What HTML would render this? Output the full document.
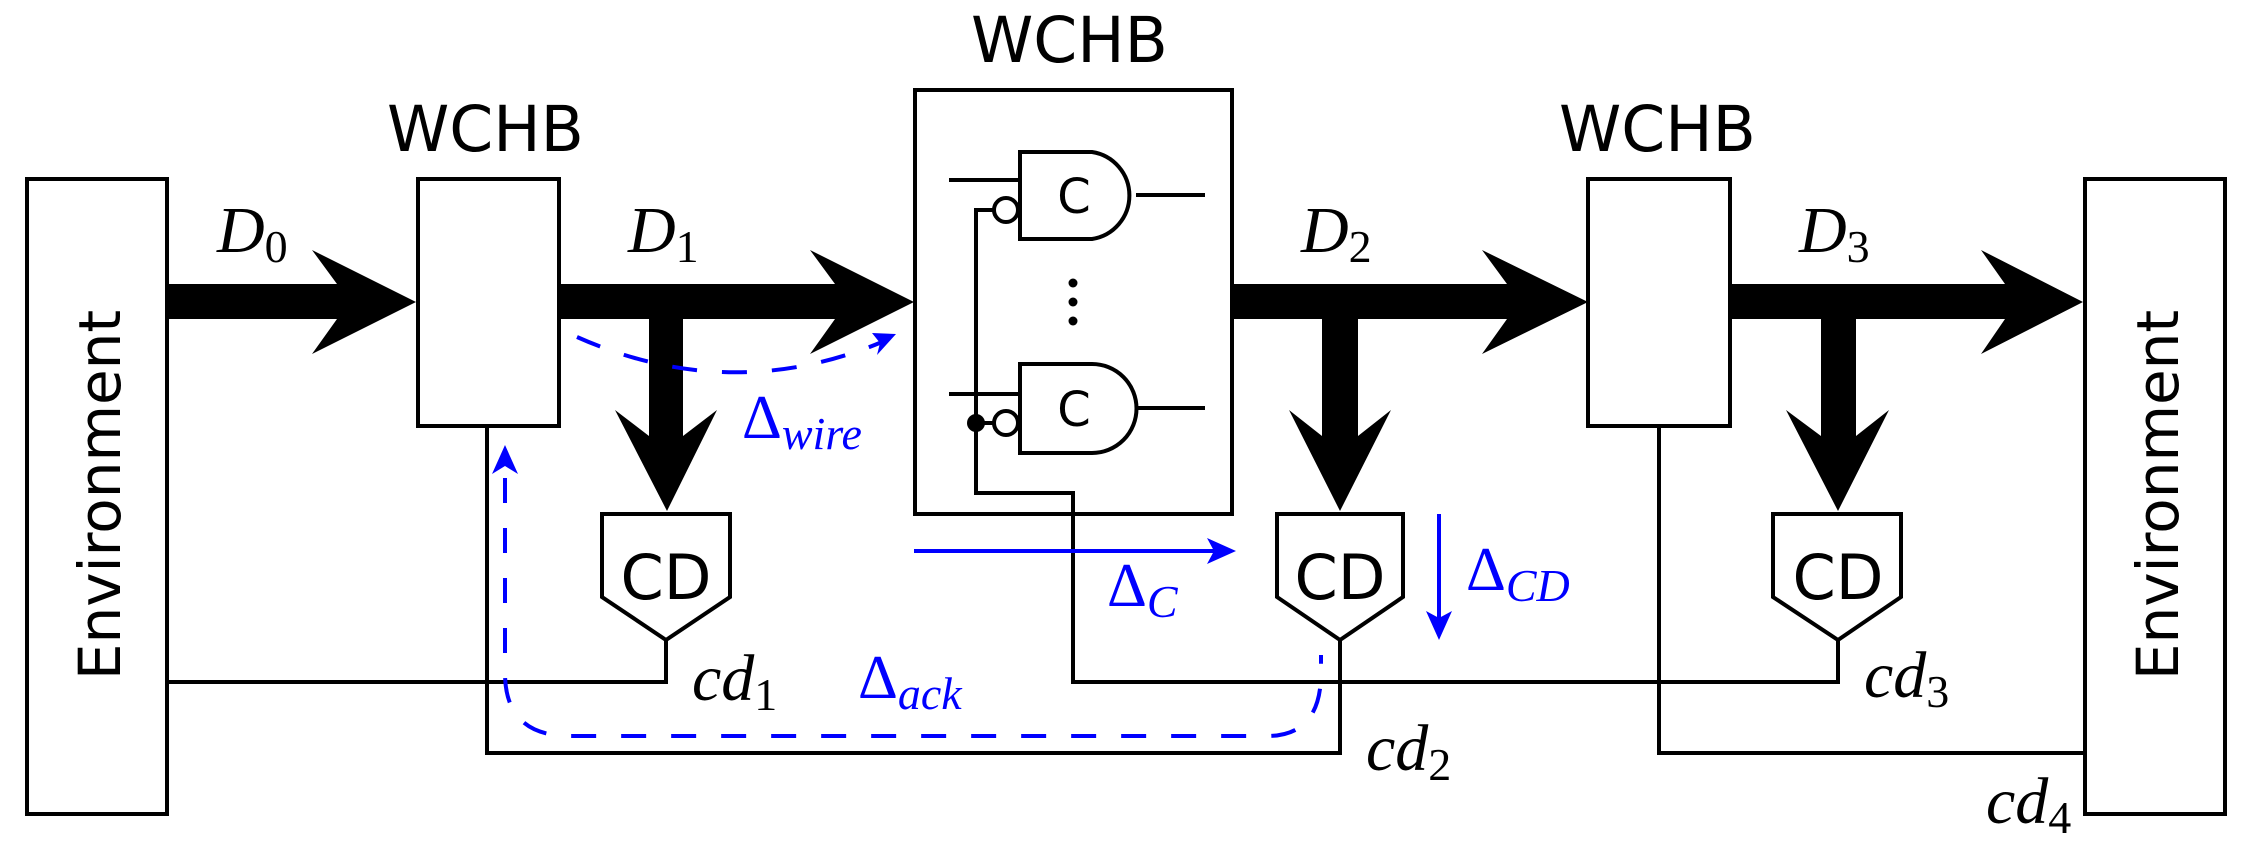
<!DOCTYPE html>
<html><head><meta charset="utf-8"><style>
html,body{margin:0;padding:0;background:#fff;}
svg{display:block;}
.s{font-family:"DejaVu Sans","Liberation Sans",sans-serif;}
.m{font-family:"Liberation Serif",serif;font-style:italic;}
.u{font-family:"Liberation Serif",serif;font-style:normal;}
</style></head><body>
<svg width="2247" height="848" viewBox="0 0 2247 848" xmlns="http://www.w3.org/2000/svg">
<defs>
<marker id="ab" markerWidth="10" markerHeight="10" refX="8" refY="5" orient="auto" markerUnits="userSpaceOnUse" viewBox="0 0 10 10">
</marker>
</defs>
<g fill="none" stroke="#000" stroke-width="4">
<rect x="27" y="179" width="140" height="635"/>
<rect x="2085" y="179" width="140" height="635"/>
<rect x="418" y="179" width="141" height="247"/>
<rect x="1588" y="179" width="142" height="247"/>
<rect x="915" y="90" width="317" height="424"/>
<!-- gates -->
<path d="M1020,152 H1092 A44,44 0 0 1 1092,239 H1020 Z"/>
<path d="M1020,364 H1092 A44,44 0 0 1 1092,453 H1020 Z"/>
<path d="M1136,195 H1205 M1136,408 H1205"/>
<path d="M949,180 H1020 M949,394 H1020"/>
<circle cx="1006" cy="210" r="12"/>
<circle cx="1006" cy="423" r="12"/>
<path d="M994,210 H976 V493 H1073 V682 H1838 V640"/>
<path d="M994,423 H976"/>
<!-- CD boxes -->
<path d="M602,514 H730 V597 L666,640 L602,597 Z"/>
<path d="M1277,514 H1403 V597 L1340,640 L1277,597 Z"/>
<path d="M1773,514 H1901 V597 L1838,640 L1773,597 Z"/>
<path d="M666,640 V682 H167"/>
<path d="M1340,640 V753 H487 V426"/>
<path d="M1659,426 V753 H2085"/>
</g>
<circle cx="976" cy="423" r="9" fill="#000"/>
<circle cx="1073" cy="283" r="4.5" fill="#000"/>
<circle cx="1073" cy="302" r="4.5" fill="#000"/>
<circle cx="1073" cy="321" r="4.5" fill="#000"/>
<!-- thick arrows -->
<g fill="#000">
<polygon points="167,284 337,284 312,250 416,302 312,354 337,319 167,319"/>
<polygon points="559,284 835,284 810,250 914,302 810,354 835,319 559,319"/>
<polygon points="1232,284 1507,284 1482,250 1588,302 1482,354 1507,319 1232,319"/>
<polygon points="1730,284 2005,284 1981,250 2083,302 1981,354 2005,319 1730,319"/>
<polygon points="649,318 683,318 683,436 717,410 667,511 615,410 649,436"/>
<polygon points="1322,318 1358,318 1358,436 1391,410 1340,511 1289,410 1322,436"/>
<polygon points="1821,318 1856,318 1856,436 1889,410 1838,511 1786,410 1821,436"/>
</g>
<!-- blue -->
<g fill="none" stroke="#0000ff" stroke-width="4">
<path d="M577,337 Q730,405 882,342" stroke-dasharray="25,25"/>
<path d="M505,478 V673 Q505,736 570,736 H1267 Q1321,736 1321,673 V655" stroke-dasharray="25,25"/>
<path d="M914,551 H1228"/>
<path d="M1439,514 V632"/>
</g>
<g fill="#0000ff">
<polygon points="896,334 872,333 880,343 877,355"/>
<polygon points="505,445 518,474 505,466 492,474"/>
<polygon points="1236,551 1207,538 1214,551 1207,564"/>
<polygon points="1439,640 1426,611 1439,618 1452,611"/>
</g>
<!-- text -->
<g class="s" fill="#000">
<text x="971" y="62" font-size="63">WCHB</text>
<text x="387" y="151" font-size="63">WCHB</text>
<text x="1559" y="151" font-size="63">WCHB</text>
<text x="1074" y="213" font-size="48" text-anchor="middle">C</text>
<text x="1074" y="426" font-size="48" text-anchor="middle">C</text>
<text x="666" y="599" font-size="62" text-anchor="middle">CD</text>
<text x="1340" y="599" font-size="62" text-anchor="middle">CD</text>
<text x="1838" y="599" font-size="62" text-anchor="middle">CD</text>
<text transform="translate(120,495) rotate(-90)" font-size="58" text-anchor="middle">Environment</text>
<text transform="translate(2178,495) rotate(-90)" font-size="58" text-anchor="middle">Environment</text>
</g>
<g fill="#000" font-size="66">
<text x="217" y="252"><tspan class="m">D</tspan><tspan class="u" font-size="46" dy="10">0</tspan></text>
<text x="628" y="252"><tspan class="m">D</tspan><tspan class="u" font-size="46" dy="10">1</tspan></text>
<text x="1301" y="252"><tspan class="m">D</tspan><tspan class="u" font-size="46" dy="10">2</tspan></text>
<text x="1799" y="252"><tspan class="m">D</tspan><tspan class="u" font-size="46" dy="10">3</tspan></text>
<text x="692" y="700"><tspan class="m">cd</tspan><tspan class="u" font-size="46" dy="10">1</tspan></text>
<text x="1366" y="770"><tspan class="m">cd</tspan><tspan class="u" font-size="46" dy="10">2</tspan></text>
<text x="1864" y="697"><tspan class="m">cd</tspan><tspan class="u" font-size="46" dy="10">3</tspan></text>
<text x="1986" y="823"><tspan class="m">cd</tspan><tspan class="u" font-size="46" dy="10">4</tspan></text>
</g>
<g fill="#0000ff" font-size="62">
<text x="742" y="438"><tspan class="u">Δ</tspan><tspan class="m" font-size="46" dy="11">wire</tspan></text>
<text x="858" y="698"><tspan class="u">Δ</tspan><tspan class="m" font-size="46" dy="11">ack</tspan></text>
<text x="1107" y="606"><tspan class="u">Δ</tspan><tspan class="m" font-size="46" dy="11">C</tspan></text>
<text x="1466" y="590"><tspan class="u">Δ</tspan><tspan class="m" font-size="46" dy="11">CD</tspan></text>
</g>
</svg>
</body></html>
